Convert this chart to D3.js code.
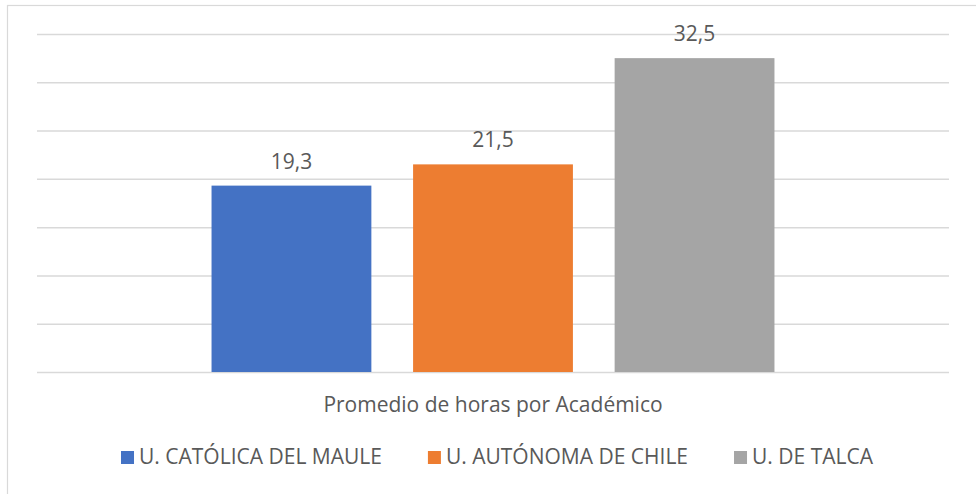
<!DOCTYPE html>
<html>
<head>
<meta charset="utf-8">
<script src="https://cdn.jsdelivr.net/npm/d3@7"></script>
<style>
  body { margin: 0; background: #fff; }
  text { font-family: "Open Sans", Lato, sans-serif; fill: #595959; }
</style>
</head>
<body>
<div id="chart-area"></div>
<script>
// datos del gráfico
const categorias = ["Promedio de horas por Académico"]
const universidades = ["U. CATÓLICA DEL MAULE", "U. AUTÓNOMA DE CHILE", "U. DE TALCA"]
const horas = [19.3, 21.5, 32.5]
const ejeTicks = [0, 5, 10, 15, 20, 25, 30, 35]

const colores = ["#4472C4", "#ED7D31", "#A5A5A5"]

// margenes del área de trazado
const MARGIN = { LEFT: 37, RIGHT: 27, TOP: 34, BOTTOM: 122 }
const WIDTH = 976 - MARGIN.LEFT - MARGIN.RIGHT
const HEIGHT = 494 - MARGIN.TOP - MARGIN.BOTTOM

const svg = d3.select("#chart-area").append("svg")
  .attr("width", 976)
  .attr("height", 494)

// borde del gráfico (cortado a la derecha y abajo)
svg.append("rect")
  .attr("x", 7.5)
  .attr("y", 5.5)
  .attr("width", 1200)
  .attr("height", 1200)
  .attr("fill", "none")
  .attr("stroke", "#D9D9D9")
  .attr("stroke-width", 1.2)

const g = svg.append("g")
  .attr("transform", `translate(${MARGIN.LEFT}, ${MARGIN.TOP})`)

// escalas
const x0 = d3.scaleBand().domain(categorias).range([0, WIDTH])
const x1 = d3.scaleBand().domain(universidades)
  .range([0, x0.bandwidth()])
  .paddingInner(0.207)
  .paddingOuter(0.866)
const y = d3.scaleLinear().domain([0, d3.max(ejeTicks)]).range([HEIGHT, 0])

// lineas de la grilla
const grid = g.append("g")
  .call(d3.axisLeft(y).tickValues(ejeTicks).tickSize(-WIDTH).tickFormat(""))
grid.select(".domain").remove()
grid.selectAll(".tick line")
  .attr("stroke", "#D9D9D9")
  .attr("stroke-width", 1.5)

// formato con coma decimal
const fmt = d3.formatLocale({ decimal: ",", thousands: ".", grouping: [3], currency: ["$", ""] }).format(".1f")

const datos = universidades.map((u, i) => ({ serie: u, valor: horas[i], cat: categorias[0] }))

// barras
g.selectAll(".bar")
  .data(datos)
  .enter().append("rect")
  .attr("class", "bar")
  .attr("x", d => x0(d.cat) + x1(d.serie))
  .attr("y", d => y(d.valor))
  .attr("width", x1.bandwidth())
  .attr("height", d => HEIGHT - y(d.valor))
  .attr("fill", (d, i) => colores[i])

// etiquetas de valores
g.selectAll(".label")
  .data(datos)
  .enter().append("text")
  .attr("class", "label")
  .attr("x", d => x0(d.cat) + x1(d.serie) + x1.bandwidth() / 2)
  .attr("y", d => y(d.valor) - 17)
  .attr("text-anchor", "middle")
  .attr("font-size", "21px")
  .text(d => fmt(d.valor))

// etiqueta de categoria (eje x)
g.selectAll(".cat")
  .data(categorias)
  .enter().append("text")
  .attr("class", "cat")
  .attr("x", d => x0(d) + x0.bandwidth() / 2)
  .attr("y", HEIGHT + 40)
  .attr("text-anchor", "middle")
  .attr("font-size", "21px")
  .text(d => d)

// leyenda
const leyenda = svg.append("g").attr("transform", "translate(0, 464)")
const items = leyenda.selectAll(".item")
  .data(universidades)
  .enter().append("g")
  .attr("class", "item")

items.append("rect")
  .attr("y", -13)
  .attr("width", 13)
  .attr("height", 13)
  .attr("fill", (d, i) => colores[i])

items.append("text")
  .attr("x", 18)
  .attr("font-size", "21px")
  .text(d => d)

// posiciones de la leyenda centradas
const anchos = []
items.each(function () { anchos.push(18 + this.querySelector("text").getComputedTextLength()) })
const sep = 46
const total = d3.sum(anchos) + sep * (anchos.length - 1)
let pos = 497 - total / 2
items.attr("transform", (d, i) => {
  const t = `translate(${pos}, 0)`
  pos += anchos[i] + sep
  return t
})
</script>
</body>
</html>
